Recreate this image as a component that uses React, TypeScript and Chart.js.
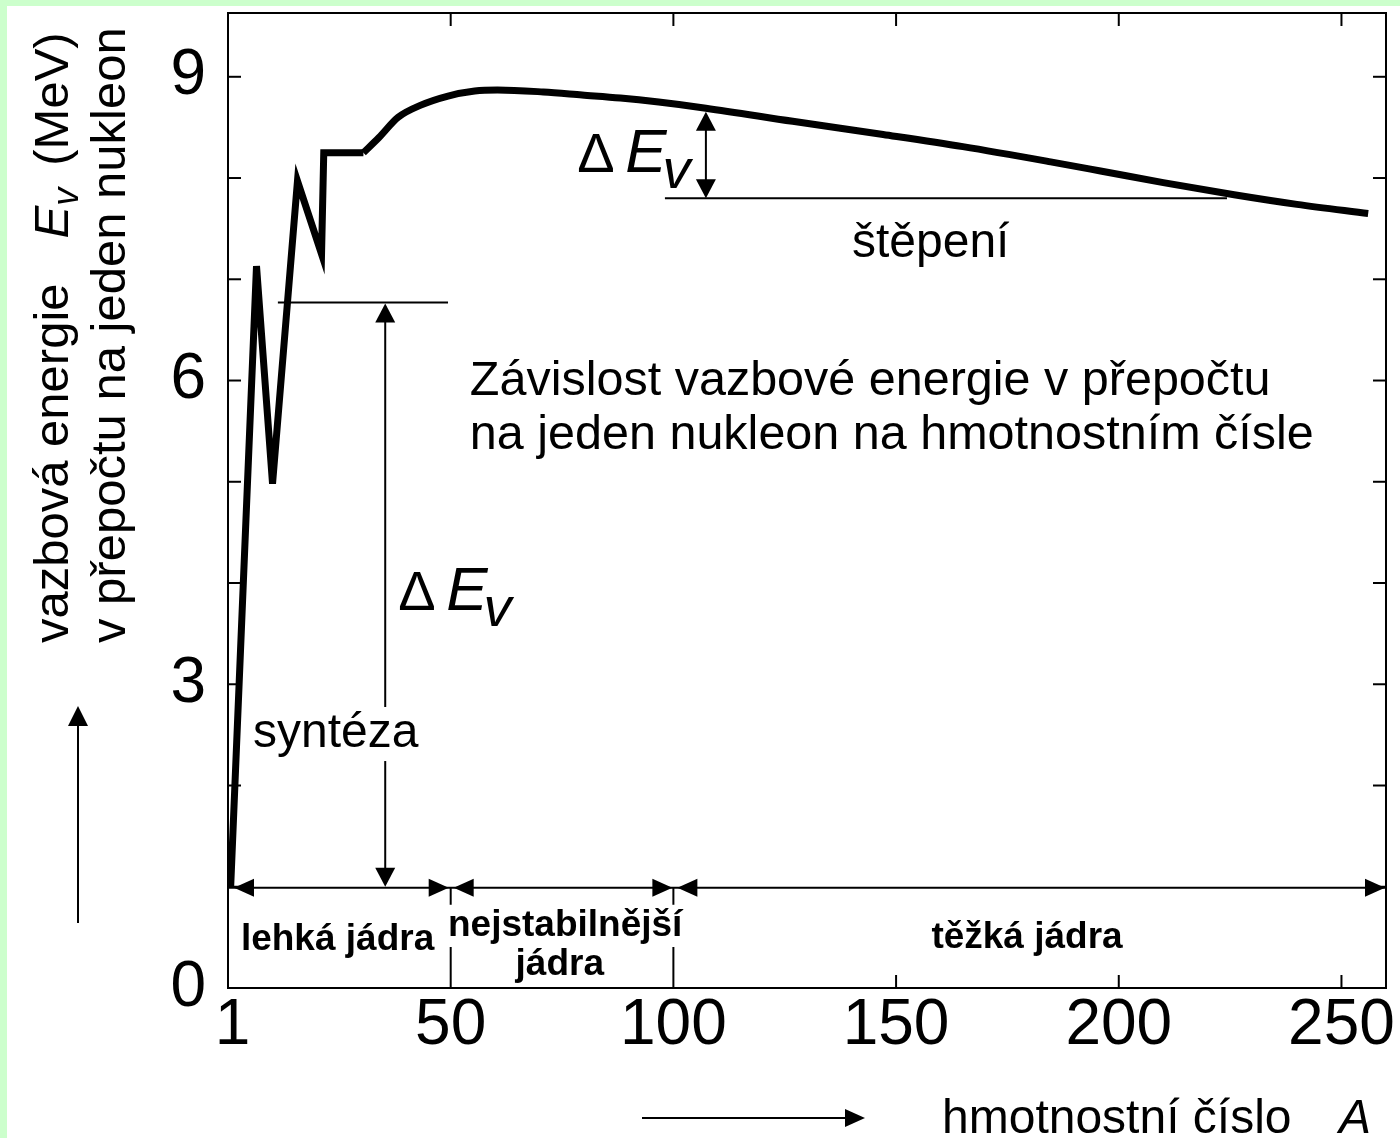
import React, { useEffect, useRef } from 'react';
import { Chart, registerables } from 'chart.js';

Chart.register(...registerables);

// ---- data ----
// light nuclei (straight zig-zag segments)
const MASS_NUMBER_LIGHT = [0.6, 6.4, 10.0, 15.6, 21.0, 21.5, 30.4];
const BINDING_ENERGY_LIGHT = [1.0, 7.13, 4.98, 7.97, 7.25, 8.25, 8.25];
// heavier nuclei (smooth curve)
const MASS_NUMBER_HEAVY = [30.4, 33.9, 38.2, 43.3, 49.4, 55.4, 60.5, 70.8, 79.5, 88.1, 96.7, 107.3, 126.8, 147.1, 165, 184.7, 195.9, 210, 225.9, 240, 256];
const BINDING_ENERGY_HEAVY = [8.25, 8.40, 8.60, 8.72, 8.81, 8.86, 8.87, 8.85, 8.82, 8.79, 8.75, 8.69, 8.56, 8.43, 8.31, 8.16, 8.07, 7.955, 7.835, 7.74, 7.65];
const X_TICKS = [1, 50, 100, 150, 200, 250];
const Y_TICKS = [0, 3, 6, 9];
const Y_MINOR_TICKS = [1, 2, 3, 4, 5, 6, 7, 8, 9];
const REGION_EDGES = [0, 50, 100, 260];
const REGION_LABELS = ['lehká jádra', 'nejstabilnější', 'těžká jádra'];
const TITLE_LINES = ['Závislost vazbové energie v přepočtu', 'na jeden nukleon na hmotnostním čísle'];
const Y_TITLE = ['vazbová energie', 'E', 'v', '(MeV)', 'v přepočtu na jeden nukleon'];
const X_TITLE = ['hmotnostní číslo', 'A'];

const FONT = '"Liberation Sans", Arial, sans-serif';

function arrowHead(ctx: CanvasRenderingContext2D, x: number, y: number, dx: number, dy: number, len = 20, hw = 9) {
  ctx.beginPath();
  ctx.moveTo(x, y);
  ctx.lineTo(x - dx * len - dy * hw, y - dy * len + dx * hw);
  ctx.lineTo(x - dx * len + dy * hw, y - dy * len - dx * hw);
  ctx.closePath();
  ctx.fill();
}

function line(ctx: CanvasRenderingContext2D, x1: number, y1: number, x2: number, y2: number) {
  ctx.beginPath();
  ctx.moveTo(x1, y1);
  ctx.lineTo(x2, y2);
  ctx.stroke();
}

function deltaE(ctx: CanvasRenderingContext2D, x: number, y: number) {
  ctx.textAlign = 'left';
  ctx.textBaseline = 'alphabetic';
  ctx.font = `56px ${FONT}`;
  ctx.fillText('Δ', x, y);
  ctx.font = `italic 62px ${FONT}`;
  ctx.fillText('E', x + 48, y);
  const ew = ctx.measureText('E').width;
  ctx.font = `italic 56px ${FONT}`;
  ctx.fillText('v', x + 48 + ew - 4, y + 16);
}

const annotations = {
  id: 'annotations',
  beforeDraw(chart: any) {
    const ctx = chart.ctx as CanvasRenderingContext2D;
    ctx.save();
    ctx.fillStyle = '#ffffff';
    ctx.fillRect(0, 0, chart.width, chart.height);
    ctx.fillStyle = '#ccffcc';
    ctx.fillRect(0, 0, 7, chart.height);
    ctx.fillRect(0, 0, chart.width, 6);
    ctx.restore();
  },
  afterDraw(chart: any) {
    const ctx = chart.ctx as CanvasRenderingContext2D;
    const { left, right, top, bottom } = chart.chartArea;
    const xs = chart.scales.x;
    const ys = chart.scales.y;
    const X = (v: number) => xs.getPixelForValue(v);
    const Y = (v: number) => ys.getPixelForValue(v);
    ctx.save();
    ctx.strokeStyle = '#000';
    ctx.fillStyle = '#000';

    // frame
    ctx.lineWidth = 2;
    ctx.strokeRect(left, top, right - left, bottom - top);

    // tick marks (inside)
    for (const v of Y_MINOR_TICKS) {
      line(ctx, left, Y(v), left + 13, Y(v));
      line(ctx, right, Y(v), right - 13, Y(v));
    }
    for (const v of X_TICKS.slice(1)) {
      line(ctx, X(v), top, X(v), top + 13);
      if (v > 100) line(ctx, X(v), bottom, X(v), bottom - 13);
    }

    // region arrows
    const ry = Y(0.99);
    line(ctx, left, ry, right, ry);
    const e = REGION_EDGES.map(X);
    arrowHead(ctx, e[0] + 6, ry, -1, 0);
    arrowHead(ctx, e[1] - 2, ry, 1, 0);
    arrowHead(ctx, e[1] + 3, ry, -1, 0);
    arrowHead(ctx, e[2] - 1, ry, 1, 0);
    arrowHead(ctx, e[2] + 4, ry, -1, 0);
    arrowHead(ctx, e[3] - 1, ry, 1, 0);
    // separators
    for (const s of [e[1], e[2]]) {
      line(ctx, s, ry, s, ry + 17);
      line(ctx, s, bottom - 41, s, bottom);
    }

    // region labels
    ctx.textAlign = 'center';
    ctx.textBaseline = 'alphabetic';
    ctx.font = `bold 37px ${FONT}`;
    ctx.fillText(REGION_LABELS[0], X(24.6), Y(0.375));
    ctx.fillText(REGION_LABELS[1], X(75.7), Y(0.514));
    ctx.fillText('jádra', X(74.5), Y(0.128));
    ctx.fillText(REGION_LABELS[2], X(179.4), Y(0.395));

    // fusion arrow
    const fx = X(35.3);
    const synBase = Y(2.38);
    line(ctx, fx, Y(6.77) + 4, fx, synBase - 40);
    line(ctx, fx, synBase + 14, fx, ry - 4);
    arrowHead(ctx, fx, Y(6.77) + 1, 0, -1, 19, 10);
    arrowHead(ctx, fx, ry - 1, 0, 1, 19, 10);
    line(ctx, X(11.2), Y(6.77), X(49.4), Y(6.77));
    ctx.font = `48px ${FONT}`;
    ctx.textAlign = 'left';
    ctx.fillText('syntéza', X(5.6), synBase);
    deltaE(ctx, X(38.2), Y(3.73));

    // fission arrow
    const sx = X(107.3);
    line(ctx, sx, Y(8.655) + 4, sx, Y(7.8) - 4);
    arrowHead(ctx, sx, Y(8.655), 0, -1, 19, 10);
    arrowHead(ctx, sx, Y(7.8), 0, 1, 19, 10);
    line(ctx, X(98.1), Y(7.8), X(224.3), Y(7.8));
    ctx.font = `48px ${FONT}`;
    ctx.textAlign = 'left';
    ctx.fillText('štěpení', X(140.1), Y(7.22));
    deltaE(ctx, X(78.4), Y(8.06));

    // title
    ctx.font = `48.5px ${FONT}`;
    ctx.textAlign = 'left';
    ctx.fillText(TITLE_LINES[0], X(54.3), Y(5.857));
    ctx.fillText(TITLE_LINES[1], X(54.3), Y(5.323));

    // y-axis title (rotated)
    ctx.save();
    ctx.translate(68, 643);
    ctx.rotate(-Math.PI / 2);
    ctx.textAlign = 'left';
    ctx.font = `49px ${FONT}`;
    ctx.fillText(Y_TITLE[0], 0, 0);
    let tx = ctx.measureText(Y_TITLE[0]).width + 45;
    ctx.font = `italic 49px ${FONT}`;
    ctx.fillText(Y_TITLE[1], tx, 0);
    tx += ctx.measureText(Y_TITLE[1]).width;
    ctx.font = `italic 36px ${FONT}`;
    ctx.fillText(Y_TITLE[2], tx, 10);
    tx += ctx.measureText(Y_TITLE[2]).width + 22;
    ctx.font = `49px ${FONT}`;
    ctx.fillText(Y_TITLE[3], tx, 0);
    ctx.restore();
    ctx.save();
    ctx.translate(125, 643);
    ctx.rotate(-Math.PI / 2);
    ctx.textAlign = 'left';
    ctx.font = `49px ${FONT}`;
    ctx.fillText(Y_TITLE[4], 0, 0);
    ctx.restore();
    // y arrow
    ctx.lineWidth = 2;
    line(ctx, 78, 923, 78, 722);
    arrowHead(ctx, 78, 706, 0, -1, 20, 10);

    // x-axis title
    line(ctx, 642, 1118, 850, 1118);
    arrowHead(ctx, 865, 1118, 1, 0, 20, 9);
    ctx.font = `48px ${FONT}`;
    ctx.textAlign = 'left';
    ctx.fillText(X_TITLE[0], 942, 1133);
    ctx.font = `italic 48px ${FONT}`;
    ctx.fillText(X_TITLE[1], 1339, 1133);

    ctx.restore();
  },
};

export default function App() {
  const ref = useRef<HTMLCanvasElement | null>(null);
  useEffect(() => {
    if (!ref.current) return;
    const common = {
      borderColor: '#000',
      borderWidth: 7,
      pointRadius: 0,
      borderJoinStyle: 'miter',
      borderCapStyle: 'butt',
      fill: false,
    };
    const chart = new Chart(ref.current, {
      type: 'line',
      data: {
        datasets: [
          {
            ...common,
            data: MASS_NUMBER_LIGHT.map((x, i) => ({ x, y: BINDING_ENERGY_LIGHT[i] })),
            tension: 0,
          },
          {
            ...common,
            data: MASS_NUMBER_HEAVY.map((x, i) => ({ x, y: BINDING_ENERGY_HEAVY[i] })),
            cubicInterpolationMode: 'monotone',
          },
        ],
      },
      options: {
        animation: false,
        responsive: false,
        devicePixelRatio: 1,
        layout: { padding: { left: 0, top: 13, right: 14, bottom: 0 } },
        plugins: { legend: { display: false }, tooltip: { enabled: false } },
        scales: {
          x: {
            type: 'linear',
            min: 0,
            max: 260,
            grid: { display: false, drawTicks: false },
            border: { display: false },
            afterBuildTicks: (s: any) => {
              s.ticks = X_TICKS.map((v) => ({ value: v }));
            },
            afterFit: (s: any) => {
              s.height = 150;
              s.paddingLeft = 0;
              s.paddingRight = 0;
            },
            ticks: {
              autoSkip: false,
              maxRotation: 0,
              padding: 0,
              color: '#000',
              font: { family: FONT, size: 64, lineHeight: 1.2 },
              callback: (v: any) => String(v),
            },
          },
          y: {
            type: 'linear',
            min: 0,
            max: 9.63,
            grid: { display: false, drawTicks: false },
            border: { display: false },
            afterBuildTicks: (s: any) => {
              s.ticks = Y_TICKS.map((v) => ({ value: v }));
            },
            afterFit: (s: any) => {
              s.width = 228;
              s.paddingTop = 0;
              s.paddingBottom = 0;
            },
            ticks: {
              padding: 22,
              color: '#000',
              font: { family: FONT, size: 64 },
              callback: (v: any) => String(v),
            },
          },
        },
      },
      plugins: [annotations],
    } as any);
    return () => chart.destroy();
  }, []);
  return (
    <div style={{ position: 'fixed', left: 0, top: 0, width: 1400, height: 1138, background: '#fff' }}>
      <canvas ref={ref} width={1400} height={1138} style={{ display: 'block' }} />
    </div>
  );
}
